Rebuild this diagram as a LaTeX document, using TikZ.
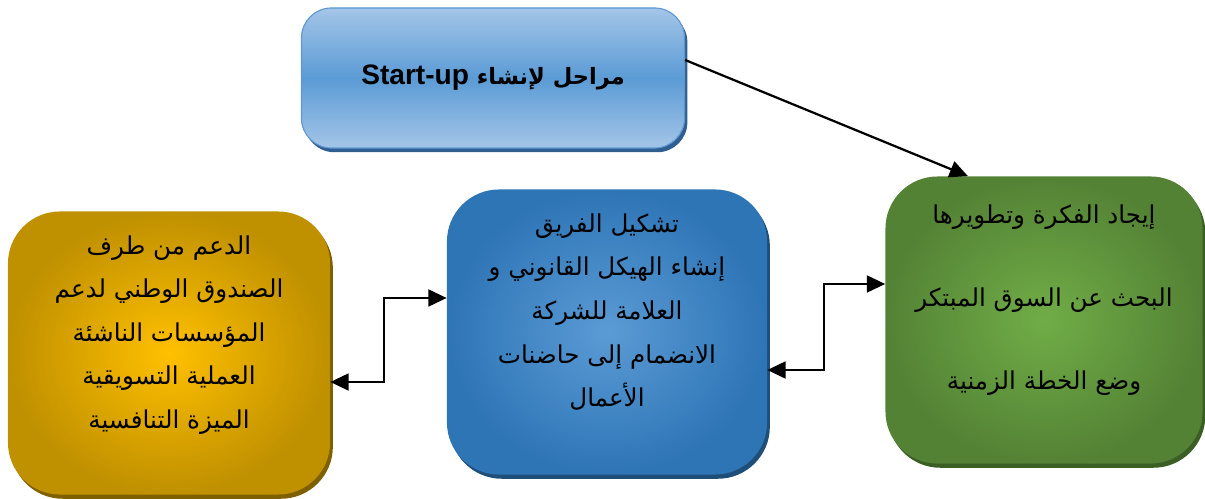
\documentclass[tikz,border=0pt]{standalone}
\usepackage{fontspec}
\setmainfont{Liberation Sans}
\newfontfamily\arabicfont[Script=Arabic]{DejaVu Sans}
\TeXXeTstate=1
\usetikzlibrary{positioning,shadows,arrows.meta}

\definecolor{titlelight}{HTML}{A4C5E8}
\definecolor{titlemid}{HTML}{5B9BD5}
\definecolor{titleline}{HTML}{5F97D0}
\definecolor{titleshadow}{HTML}{2F5F91}
\definecolor{greenin}{HTML}{70AD47}
\definecolor{greenout}{HTML}{548235}
\definecolor{greenshadow}{HTML}{3B5E24}
\definecolor{bluein}{HTML}{5B9BD5}
\definecolor{blueout}{HTML}{2E75B6}
\definecolor{blueshadow}{HTML}{1F4E79}
\definecolor{goldin}{HTML}{FFC000}
\definecolor{goldout}{HTML}{BF9000}
\definecolor{goldshadow}{HTML}{7F6000}

\newcommand{\rtlline}[1]{\beginR #1\endR}

\begin{document}
\begin{tikzpicture}[x=0.025cm, y=-0.025cm,
  stagebox/.style={rounded corners=1.3cm, minimum width=8cm, minimum height=7.1cm},
  stagetext/.style={align=center, font=\arabicfont\fontsize{17.5}{31}\selectfont},
  link/.style={line width=1.6pt, -{Triangle[length=13pt,width=12pt]}},
  duallink/.style={line width=1.6pt, {Triangle[length=13pt,width=12pt]}-{Triangle[length=13pt,width=12pt]}}]
  \useasboundingbox (0,0) rectangle (1205,499);

  % title box
  \node[rounded corners=0.75cm, minimum width=9.575cm, minimum height=3.5cm,
        draw=titleline, line width=0.8pt,
        top color=titlelight, bottom color=titlelight, middle color=titlemid,
        drop shadow={shadow xshift=2pt, shadow yshift=-3pt, fill=titleshadow, opacity=1},
        font=\bfseries] (title) at (493,78)
    {\arabicfont\fontsize{16}{24}\selectfont\rtlline{مراحل لإنشاء \beginL\normalfont\bfseries\fontsize{20}{24}\selectfont Start-up\endL}};

  % the three stages
  \node[stagebox, minimum width=7.925cm, minimum height=7.175cm,
        inner color=greenin, outer color=greenout,
        drop shadow={shadow xshift=2pt, shadow yshift=-3pt, fill=greenshadow, opacity=1}] (idea) at (1044,320) {};
  \node[stagebox, minimum width=8cm, minimum height=7.125cm,
        inner color=bluein, outer color=blueout,
        drop shadow={shadow xshift=2pt, shadow yshift=-3pt, fill=blueshadow, opacity=1}] (team) at (607,332) {};
  \node[stagebox, minimum width=8.05cm, minimum height=7.075cm,
        inner color=goldin, outer color=goldout,
        drop shadow={shadow xshift=2pt, shadow yshift=-3pt, fill=goldshadow, opacity=1}] (support) at (169,353) {};

  \node[stagetext] (ideatext) at ([yshift=0.5cm]idea.center)
    {\rtlline{إيجاد الفكرة وتطويرها}\\[28pt]
     \rtlline{البحث عن السوق المبتكر}\\[28pt]
     \rtlline{وضع الخطة الزمنية}};
  \node[stagetext] (teamtext) at ([yshift=0.5cm]team.center)
    {\rtlline{تشكيل الفريق}\\
     \rtlline{إنشاء الهيكل القانوني و}\\
     \rtlline{العلامة للشركة}\\
     \rtlline{الانضمام إلى حاضنات}\\
     \rtlline{الأعمال}};
  \node[stagetext] (supporttext) at ([yshift=0.45cm]support.center)
    {\rtlline{الدعم من طرف}\\
     \rtlline{الصندوق الوطني لدعم}\\
     \rtlline{المؤسسات الناشئة}\\
     \rtlline{العملية التسويقية}\\
     \rtlline{الميزة التنافسية}};

  % connectors
  \draw[link] ([yshift=0.45cm]title.east) -- ([xshift=-1.9cm]idea.north);
  \draw[duallink] ([yshift=0.9cm]idea.west) -- ++(-61,0) |- ([yshift=-0.95cm]team.east);
  \draw[duallink] ([yshift=0.85cm]team.west) -- ++(-63,0) |- ([yshift=-0.725cm]support.east);
\end{tikzpicture}
\end{document}
